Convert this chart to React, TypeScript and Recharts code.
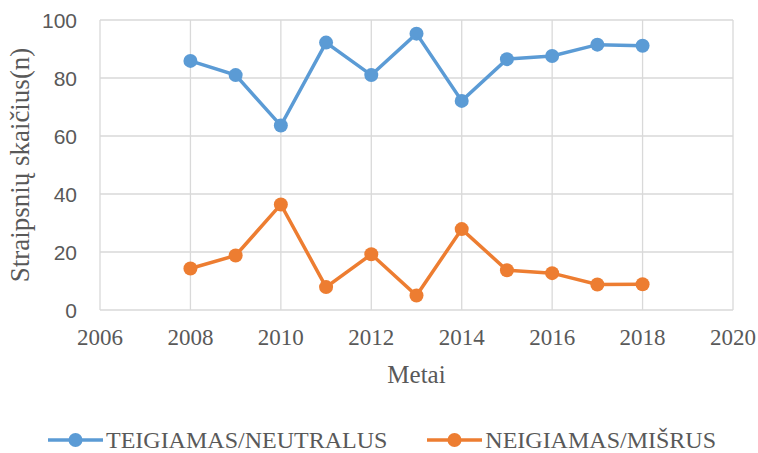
import React from "react";
import { LineChart, Line, XAxis, YAxis, CartesianGrid, Legend } from "recharts";

const years = [2008, 2009, 2010, 2011, 2012, 2013, 2014, 2015, 2016, 2017, 2018];
const teigiamas = [85.9, 81.0, 63.6, 92.2, 81.0, 95.3, 72.1, 86.5, 87.6, 91.5, 91.1];
const neigiamas = [14.3, 18.8, 36.4, 7.9, 19.2, 5.0, 27.9, 13.7, 12.7, 8.8, 8.9];
const xTicks = [2006, 2008, 2010, 2012, 2014, 2016, 2018, 2020];
const yTicks = [0, 20, 40, 60, 80, 100];

const seriesNames = ["TEIGIAMAS/NEUTRALUS", "NEIGIAMAS/MIŠRUS"];
const colors = ["#5B9BD5", "#ED7D31"];

const data = years.map((y, i) => ({ year: y, a: teigiamas[i], b: neigiamas[i] }));

const TEXT = "#595959";
const SERIF = "Liberation Serif, Times New Roman, serif";
const SANS = "Liberation Sans, Arial, sans-serif";

const renderXTick = (props: any) => {
  const { x, y, payload } = props;
  return (
    <g>
      <text
        x={x}
        y={y}
        dy="0.71em"
        textAnchor="middle"
        fill={TEXT}
        fontFamily={SERIF}
        fontSize={23}
        style={{ fontFamily: SERIF, fontSize: "23px" }}
      >
        {String(payload.value)}
      </text>
    </g>
  );
};

const renderYTick = (props: any) => {
  const { x, y, payload } = props;
  return (
    <g>
      <text
        x={x}
        y={y}
        dy="0.36em"
        textAnchor="end"
        fill={TEXT}
        fontFamily={SANS}
        fontSize={21}
        style={{ fontFamily: SANS, fontSize: "21px" }}
      >
        {String(payload.value)}
      </text>
    </g>
  );
};

const LegendContent = () => (
  <div
    style={{
      display: "flex",
      justifyContent: "center",
      paddingLeft: 31,
      height: 30,
      lineHeight: "30px",
      position: "relative",
      top: 2,
      fontFamily: SERIF,
      fontSize: 24,
      color: TEXT,
      whiteSpace: "nowrap",
    }}
  >
    {seriesNames.map((name, i) => (
      <div key={name} style={{ display: "flex", alignItems: "center", marginLeft: i === 0 ? 0 : 40 }}>
        <svg width={55} height={20} style={{ marginRight: 3 }}>
          <line x1={0} y1={10} x2={55} y2={10} stroke={colors[i]} strokeWidth={3.5} />
          <circle cx={27.5} cy={10} r={7} fill={colors[i]} />
        </svg>
        <span>{name}</span>
      </div>
    ))}
  </div>
);

export default function App() {
  return (
    <div style={{ position: "absolute", left: 0, top: 0, width: 758, height: 453 }}>
      <LineChart width={758} height={453} data={data} margin={{ top: 20, right: 25, bottom: 0, left: 0 }}>
        <CartesianGrid stroke="#D9D9D9" strokeWidth={1.3} />
        <XAxis
          dataKey="year"
          type="number"
          domain={[2006, 2020]}
          ticks={xTicks}
          height={113}
          axisLine={false}
          tickLine={false}
          tickSize={0}
          tickMargin={19}
          fontFamily={SERIF}
          fontSize={23}
          tick={renderXTick}
          label={{
            value: "Metai",
            position: "insideBottom",
            offset: 40,
            fill: TEXT,
            fontSize: 25,
            fontFamily: SERIF,
          }}
        />
        <YAxis
          type="number"
          domain={[0, 100]}
          ticks={yTicks}
          width={100}
          axisLine={false}
          tickLine={false}
          tickSize={0}
          tickMargin={23}
          fontFamily={SANS}
          fontSize={21}
          tick={renderYTick}
          label={{
            value: "Straipsnių skaičius(n)",
            angle: -90,
            position: "insideLeft",
            offset: 19,
            fill: TEXT,
            fontSize: 27,
            fontFamily: SERIF,
            style: { textAnchor: "middle" },
          }}
        />
        <Legend verticalAlign="bottom" height={30} content={<LegendContent />} />
        <Line
          dataKey="a"
          name={seriesNames[0]}
          stroke={colors[0]}
          strokeWidth={3.5}
          dot={{ r: 7, fill: colors[0], stroke: colors[0], strokeWidth: 0 }}
          activeDot={false}
          isAnimationActive={false}
        />
        <Line
          dataKey="b"
          name={seriesNames[1]}
          stroke={colors[1]}
          strokeWidth={3.5}
          dot={{ r: 7, fill: colors[1], stroke: colors[1], strokeWidth: 0 }}
          activeDot={false}
          isAnimationActive={false}
        />
      </LineChart>
    </div>
  );
}
